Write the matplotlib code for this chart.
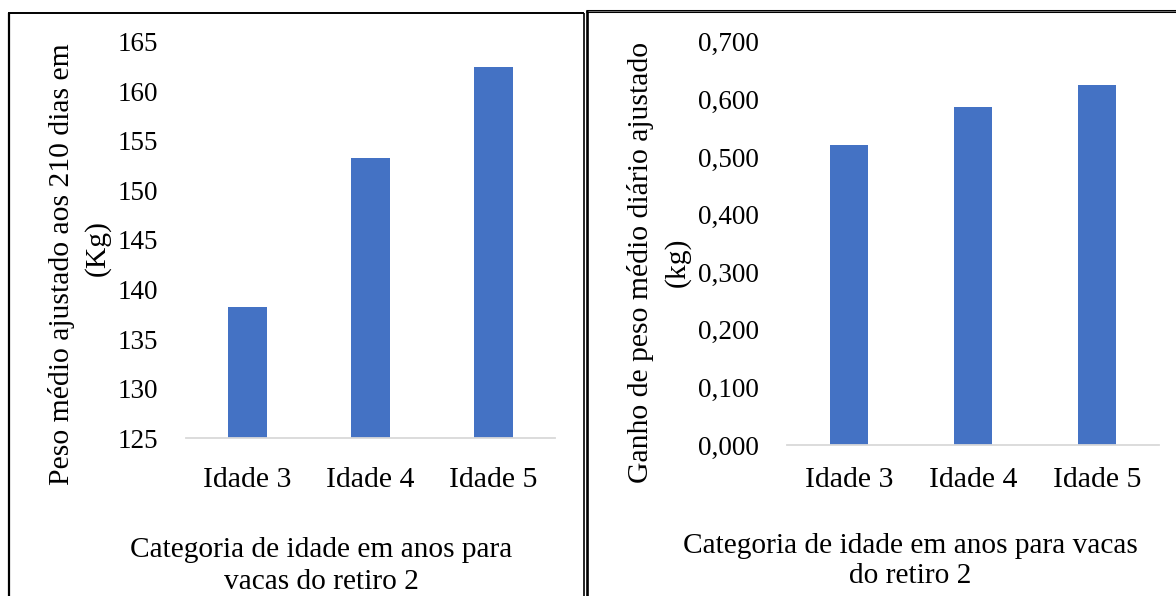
import matplotlib
matplotlib.use("Agg")
import matplotlib.pyplot as plt
from matplotlib.lines import Line2D
from matplotlib.ticker import FuncFormatter, MultipleLocator

# Data
categories = ["Idade 3", "Idade 4", "Idade 5"]
peso_210 = [138.2, 153.3, 162.4]          # kg, weight adjusted to 210 days
ganho_diario = [0.520, 0.586, 0.625]      # kg/day, adjusted daily gain

W, H = 1176, 596
BAR_COLOR = "#4472C4"
AXIS_COLOR = "#d9d9d9"
FONT = "Liberation Serif"
FS_YTICK = 19.5
FS_XTICK = 21.5
FS_TITLE = 21.2
FS_YLABEL = 21.3

plt.rcParams["font.family"] = [FONT, "DejaVu Serif"]

fig = plt.figure(figsize=(W / 100, H / 100), dpi=100)


def fx(px):
    return px / W


def fy(py):
    return 1 - py / H


def rect(x0, y0, x1, y1):
    return [fx(x0), fy(y1), fx(x1) - fx(x0), fy(y0) - fy(y1)]


def style_axes(ax, pad_x):
    for side in ("top", "right", "left"):
        ax.spines[side].set_visible(False)
    ax.spines["bottom"].set_color(AXIS_COLOR)
    ax.spines["bottom"].set_linewidth(1.3)
    ax.tick_params(axis="both", length=0)
    ax.tick_params(axis="y", pad=20, labelsize=FS_YTICK)
    ax.tick_params(axis="x", pad=pad_x, labelsize=FS_XTICK)
    ax.set_xlim(-0.5, len(categories) - 0.5)
    ax.set_xticks(range(len(categories)))
    ax.set_xticklabels(categories)


# Left panel: adjusted weight at 210 days
ax1 = fig.add_axes(rect(186, 41.7, 555, 438.3))
ax1.bar(range(len(categories)), peso_210, width=0.31, color=BAR_COLOR, zorder=2)
ax1.set_ylim(125, 165)
ax1.yaxis.set_major_locator(MultipleLocator(5))
style_axes(ax1, 20.5)

# Right panel: adjusted average daily gain
ax2 = fig.add_axes(rect(787, 41.7, 1159, 445))
ax2.bar(range(len(categories)), ganho_diario, width=0.31, color=BAR_COLOR, zorder=2)
ax2.set_ylim(0, 0.7)
ax2.yaxis.set_major_locator(MultipleLocator(0.1))
ax2.yaxis.set_major_formatter(FuncFormatter(lambda v, _: f"{v:.3f}".replace(".", ",")))
style_axes(ax2, 15.5)

# Axis titles
fig.text(fx(62), fy(264), "Peso médio ajustado aos 210 dias em",
         rotation=90, ha="center", va="center", fontsize=FS_YLABEL)
fig.text(fx(97.5), fy(248), "(Kg)", rotation=90, ha="center", va="center",
         fontsize=FS_YLABEL)
fig.text(fx(321), fy(550), "Categoria de idade em anos para",
         ha="center", va="center", fontsize=FS_TITLE)
fig.text(fx(321), fy(582), "vacas do retiro 2", ha="center", va="center",
         fontsize=FS_TITLE)

fig.text(fx(640), fy(262), "Ganho de peso médio diário ajustado",
         rotation=90, ha="center", va="center", fontsize=FS_YLABEL)
fig.text(fx(677), fy(262), "(kg)", rotation=90, ha="center", va="center",
         fontsize=FS_YLABEL)
fig.text(fx(910), fy(546), "Categoria de idade em anos para vacas",
         ha="center", va="center", fontsize=FS_TITLE)
fig.text(fx(910), fy(576), "do retiro 2", ha="center", va="center",
         fontsize=FS_TITLE)

# Panel frames
def frame_line(xs, ys, lw, color="black"):
    fig.add_artist(Line2D([fx(x) for x in xs], [fy(y) for y in ys],
                          transform=fig.transFigure, color=color, lw=lw,
                          solid_capstyle="butt"))

# left panel
frame_line([8.5, 8.5], [12.5, 600], 1.6)
frame_line([7.5, 583.5], [12.5, 12.5], 1.4)
frame_line([583.5, 583.5], [12.5, 600], 1.2)
# right panel
frame_line([587, 587], [10, 600], 1.9)
frame_line([586, 1180], [11.3, 11.3], 2.2)
frame_line([588, 1180], [11.3, 11.3], 0.5, color="#9a9a9a")

fig.savefig("out.png", dpi=100)
